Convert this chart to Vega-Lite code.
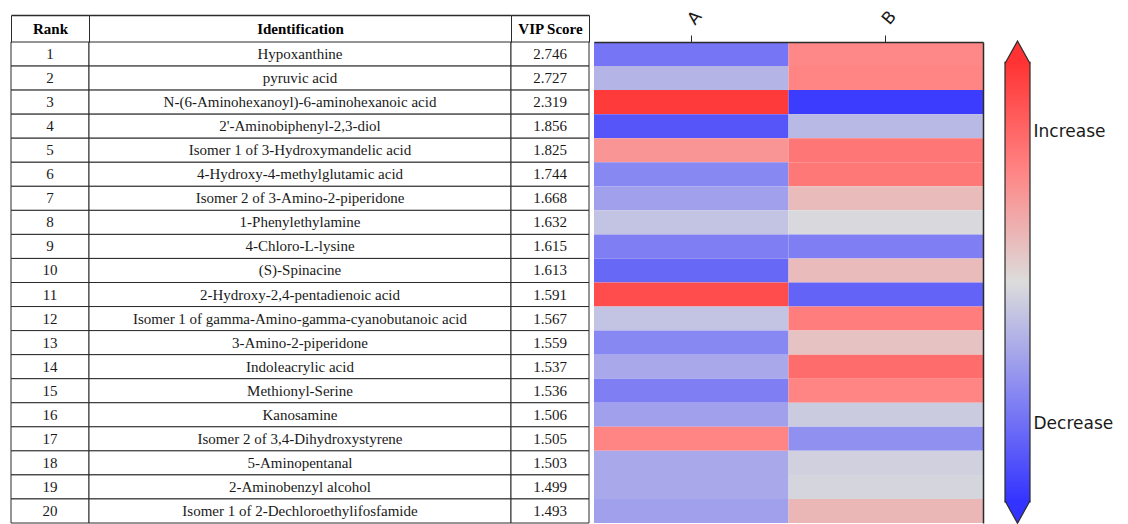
{
  "$schema": "https://vega.github.io/schema/vega-lite/v6.json",
  "autosize": {"type": "pad"},
  "padding": {"left": 10, "top": 7, "right": 0, "bottom": 0},
  "background": "white",
  "config": {"view": {"stroke": null}},
  "datasets": {
    "rows": [
      {"rank": 1, "name": "Hypoxanthine", "vip": 2.746},
      {"rank": 2, "name": "pyruvic acid", "vip": 2.727},
      {"rank": 3, "name": "N-(6-Aminohexanoyl)-6-aminohexanoic acid", "vip": 2.319},
      {"rank": 4, "name": "2'-Aminobiphenyl-2,3-diol", "vip": 1.856},
      {"rank": 5, "name": "Isomer 1 of 3-Hydroxymandelic acid", "vip": 1.825},
      {"rank": 6, "name": "4-Hydroxy-4-methylglutamic acid", "vip": 1.744},
      {"rank": 7, "name": "Isomer 2 of 3-Amino-2-piperidone", "vip": 1.668},
      {"rank": 8, "name": "1-Phenylethylamine", "vip": 1.632},
      {"rank": 9, "name": "4-Chloro-L-lysine", "vip": 1.615},
      {"rank": 10, "name": "(S)-Spinacine", "vip": 1.613},
      {"rank": 11, "name": "2-Hydroxy-2,4-pentadienoic acid", "vip": 1.591},
      {"rank": 12, "name": "Isomer 1 of gamma-Amino-gamma-cyanobutanoic acid", "vip": 1.567},
      {"rank": 13, "name": "3-Amino-2-piperidone", "vip": 1.559},
      {"rank": 14, "name": "Indoleacrylic acid", "vip": 1.537},
      {"rank": 15, "name": "Methionyl-Serine", "vip": 1.536},
      {"rank": 16, "name": "Kanosamine", "vip": 1.506},
      {"rank": 17, "name": "Isomer 2 of 3,4-Dihydroxystyrene", "vip": 1.505},
      {"rank": 18, "name": "5-Aminopentanal", "vip": 1.503},
      {"rank": 19, "name": "2-Aminobenzyl alcohol", "vip": 1.499},
      {"rank": 20, "name": "Isomer 1 of 2-Dechloroethylifosfamide", "vip": 1.493}
    ],
    "cells": [
      {"rank": 1, "group": "A", "value": -0.61}, {"rank": 1, "group": "B", "value": 0.49},
      {"rank": 2, "group": "A", "value": -0.24}, {"rank": 2, "group": "B", "value": 0.5},
      {"rank": 3, "group": "A", "value": 0.96}, {"rank": 3, "group": "B", "value": -0.95},
      {"rank": 4, "group": "A", "value": -0.8}, {"rank": 4, "group": "B", "value": -0.21},
      {"rank": 5, "group": "A", "value": 0.41}, {"rank": 5, "group": "B", "value": 0.59},
      {"rank": 6, "group": "A", "value": -0.5}, {"rank": 6, "group": "B", "value": 0.58},
      {"rank": 7, "group": "A", "value": -0.36}, {"rank": 7, "group": "B", "value": 0.19},
      {"rank": 8, "group": "A", "value": -0.15}, {"rank": 8, "group": "B", "value": -0.02},
      {"rank": 9, "group": "A", "value": -0.55}, {"rank": 9, "group": "B", "value": -0.55},
      {"rank": 10, "group": "A", "value": -0.69}, {"rank": 10, "group": "B", "value": 0.19},
      {"rank": 11, "group": "A", "value": 0.84}, {"rank": 11, "group": "B", "value": -0.72},
      {"rank": 12, "group": "A", "value": -0.15}, {"rank": 12, "group": "B", "value": 0.55},
      {"rank": 13, "group": "A", "value": -0.5}, {"rank": 13, "group": "B", "value": 0.15},
      {"rank": 14, "group": "A", "value": -0.31}, {"rank": 14, "group": "B", "value": 0.65},
      {"rank": 15, "group": "A", "value": -0.55}, {"rank": 15, "group": "B", "value": 0.5},
      {"rank": 16, "group": "A", "value": -0.36}, {"rank": 16, "group": "B", "value": -0.1},
      {"rank": 17, "group": "A", "value": 0.5}, {"rank": 17, "group": "B", "value": -0.45},
      {"rank": 18, "group": "A", "value": -0.31}, {"rank": 18, "group": "B", "value": -0.07},
      {"rank": 19, "group": "A", "value": -0.31}, {"rank": 19, "group": "B", "value": -0.04},
      {"rank": 20, "group": "A", "value": -0.36}, {"rank": 20, "group": "B", "value": 0.22}
    ]
  },
  "spacing": 4,
  "hconcat": [
    {
      "bounds": "flush",
      "spacing": 0,
      "hconcat": [
        {
          "width": 78,
          "height": 481,
          "data": {"name": "rows"},
          "encoding": {
            "x": {
              "datum": "Rank", "type": "nominal",
              "scale": {"type": "band", "paddingInner": 0, "paddingOuter": 0},
              "axis": {"orient": "top", "title": null, "offset": 27, "tickBand": "extent", "tickSize": -27, "tickWidth": 1, "tickColor": "#2b2b2b", "domainColor": "#2b2b2b", "domainWidth": 1.5, "labelFont": "Liberation Serif", "labelFontWeight": "bold", "labelFontSize": 15, "labelColor": "#000000", "labelAngle": 0, "labelAlign": "center", "labelBaseline": "middle", "labelPadding": 13.5}
            },
            "y": {"field": "rank", "type": "ordinal", "scale": {"type": "band", "paddingInner": 0, "paddingOuter": 0}, "axis": null}
          },
          "layer": [
            {"mark": {"type": "rect", "fill": "white", "stroke": "#2b2b2b", "strokeWidth": 1}},
            {"mark": {"type": "text", "font": "Liberation Serif", "fontSize": 15, "fill": "#1a1a1a"}, "encoding": {"text": {"field": "rank", "type": "ordinal"}}}
          ]
        },
        {
          "width": 422,
          "height": 481,
          "data": {"name": "rows"},
          "encoding": {
            "x": {
              "datum": "Identification", "type": "nominal",
              "scale": {"type": "band", "paddingInner": 0, "paddingOuter": 0},
              "axis": {"orient": "top", "title": null, "offset": 27, "tickBand": "extent", "tickSize": -27, "tickWidth": 1, "tickColor": "#2b2b2b", "domainColor": "#2b2b2b", "domainWidth": 1.5, "labelFont": "Liberation Serif", "labelFontWeight": "bold", "labelFontSize": 15, "labelColor": "#000000", "labelAngle": 0, "labelAlign": "center", "labelBaseline": "middle", "labelPadding": 13.5}
            },
            "y": {"field": "rank", "type": "ordinal", "scale": {"type": "band", "paddingInner": 0, "paddingOuter": 0}, "axis": null}
          },
          "layer": [
            {"mark": {"type": "rect", "fill": "white", "stroke": "#2b2b2b", "strokeWidth": 1}},
            {"mark": {"type": "text", "font": "Liberation Serif", "fontSize": 15, "fill": "#1a1a1a"}, "encoding": {"text": {"field": "name", "type": "nominal"}}}
          ]
        },
        {
          "width": 78,
          "height": 481,
          "data": {"name": "rows"},
          "encoding": {
            "x": {
              "datum": "VIP Score", "type": "nominal",
              "scale": {"type": "band", "paddingInner": 0, "paddingOuter": 0},
              "axis": {"orient": "top", "title": null, "offset": 27, "tickBand": "extent", "tickSize": -27, "tickWidth": 1, "tickColor": "#2b2b2b", "domainColor": "#2b2b2b", "domainWidth": 1.5, "labelFont": "Liberation Serif", "labelFontWeight": "bold", "labelFontSize": 15, "labelColor": "#000000", "labelAngle": 0, "labelAlign": "center", "labelBaseline": "middle", "labelPadding": 13.5}
            },
            "y": {"field": "rank", "type": "ordinal", "scale": {"type": "band", "paddingInner": 0, "paddingOuter": 0}, "axis": null}
          },
          "layer": [
            {"mark": {"type": "rect", "fill": "white", "stroke": "#2b2b2b", "strokeWidth": 1}},
            {"mark": {"type": "text", "font": "Liberation Serif", "fontSize": 15, "fill": "#1a1a1a"}, "encoding": {"text": {"field": "vip", "type": "quantitative", "format": ".3f"}}}
          ]
        }
      ]
    },
    {
      "spacing": 19,
      "hconcat": [
        {
          "width": 389,
          "height": 481,
          "data": {"name": "cells"},
          "mark": {"type": "rect"},
          "encoding": {
            "x": {
              "field": "group", "type": "nominal",
              "scale": {"paddingInner": 0, "paddingOuter": 0},
              "axis": {"orient": "top", "title": null, "labelAngle": -50, "labelAlign": "left", "labelBaseline": "middle", "labelFont": "DejaVu Sans", "labelFontSize": 17, "labelColor": "#1a1a1a", "labelPadding": 13, "tickSize": 7, "tickColor": "#2b2b2b", "domainColor": "#2b2b2b", "domainWidth": 1.5}
            },
            "y": {
              "field": "rank", "type": "ordinal",
              "scale": {"paddingInner": 0, "paddingOuter": 0},
              "axis": {"orient": "right", "title": null, "labels": false, "ticks": false, "grid": false, "domain": true, "domainColor": "#2b2b2b", "domainWidth": 1.5}
            },
            "color": {
              "field": "value", "type": "quantitative",
              "scale": {"domain": [-1, -0.5, 0, 0.5, 1], "range": ["#3333ff", "#8888f2", "#dcdcdc", "#ff8585", "#ff3333"], "interpolate": "rgb"},
              "legend": null
            }
          }
        },
        {
          "width": 25,
          "height": 481,
          "data": {"values": [{"low": -1, "high": 1}]},
          "layer": [
            {
              "mark": {
                "type": "rect",
                "stroke": "#2b2b2b",
                "strokeWidth": 1.2,
                "fill": {
                  "gradient": "linear", "x1": 0, "y1": 1, "x2": 0, "y2": 0,
                  "stops": [
                    {"offset": 0, "color": "#3333ff"},
                    {"offset": 0.25, "color": "#8888f2"},
                    {"offset": 0.5, "color": "#dcdcdc"},
                    {"offset": 0.75, "color": "#ff8585"},
                    {"offset": 1, "color": "#ff3333"}
                  ]
                }
              },
              "encoding": {
                "y": {
                  "field": "high", "type": "quantitative",
                  "scale": {"domain": [-1.096, 1.093], "nice": false, "zero": false},
                  "axis": {"orient": "right", "title": null, "values": [0.684, -0.642], "labelExpr": "datum.value > 0 ? 'Increase' : 'Decrease'", "domain": false, "ticks": false, "grid": false, "labelFont": "DejaVu Sans", "labelFontSize": 17, "labelColor": "#1a1a1a", "labelPadding": 3, "labelBaseline": "middle"}
                },
                "y2": {"field": "low"}
              }
            },
            {
              "mark": {"type": "point", "shape": "M-1,0.9L0,-0.9L1,0.9", "size": 625, "filled": true, "fill": "#ff3333", "stroke": "#2b2b2b", "strokeWidth": 1.2, "opacity": 1},
              "encoding": {"y": {"datum": 1.046, "type": "quantitative"}}
            },
            {
              "mark": {"type": "point", "shape": "M-1,-0.9L0,0.9L1,-0.9", "size": 625, "filled": true, "fill": "#3333ff", "stroke": "#2b2b2b", "strokeWidth": 1.2, "opacity": 1},
              "encoding": {"y": {"datum": -1.046, "type": "quantitative"}}
            }
          ]
        }
      ]
    }
  ]
}
